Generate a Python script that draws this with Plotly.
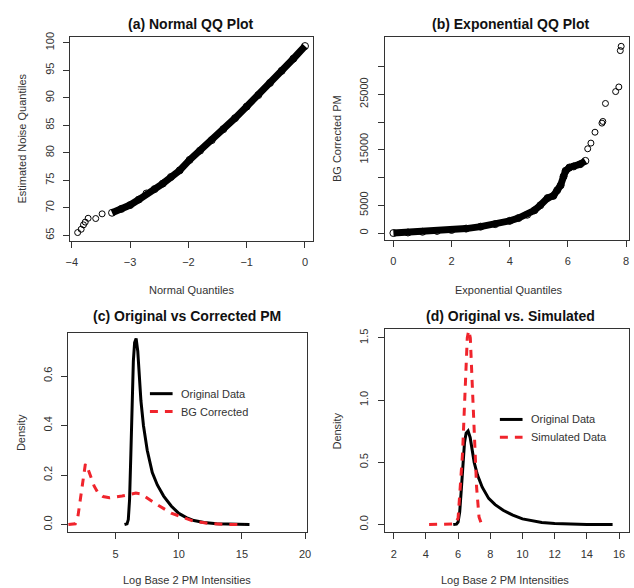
import plotly.graph_objects as go

W, H = 634, 588
FONT = "Liberation Sans, Arial, Helvetica, sans-serif"
RED = "#f0242c"

# ---------------- (a) Normal QQ plot ----------------
normal_q_tail = [-3.90, -3.84, -3.80, -3.77, -3.72, -3.59, -3.48]
noise_q_tail = [65.5, 66.1, 66.9, 67.4, 68.1, 68.05, 68.9]
normal_q_body = [-3.31, -3.15, -3.0, -2.85, -2.72, -2.58, -2.44, -2.3, -2.15, -1.98,
                 -1.8, -1.6, -1.4, -1.2, -1.0, -0.8, -0.6, -0.4, -0.2, 0.0]
noise_q_body = [69.1, 69.8, 70.5, 71.5, 72.6, 73.4, 74.4, 75.6, 76.8, 78.7,
                80.4, 82.3, 84.3, 86.3, 88.4, 90.5, 92.7, 94.9, 97.1, 99.4]

# ---------------- (b) Exponential QQ plot ----------------
exp_q_body = [0.0, 0.5, 1.0, 1.5, 2.0, 2.5, 3.0, 3.5, 4.0, 4.3, 4.6, 4.85, 5.05,
              5.3, 5.5, 5.63, 5.75, 5.85, 5.92, 6.05, 6.2, 6.42, 6.6]
bg_pm_body = [0, 100, 230, 380, 550, 800, 1150, 1600, 2200, 2700, 3300, 4100, 5000,
              6300, 6700, 7700, 8600, 10200, 11200, 11800, 12000, 12400, 13000]
exp_q_tail = [6.68, 6.79, 6.93, 7.17, 7.20, 7.29, 7.64, 7.75, 7.80, 7.83]
bg_pm_tail = [15180, 16200, 18160, 19800, 20100, 23340, 25480, 26310, 32860, 33630]

# ---------------- (c)/(d) densities ----------------
log2_orig = [5.7, 5.9, 6.0, 6.1, 6.2, 6.3, 6.4, 6.5, 6.62, 6.75, 6.87, 7.0, 7.2, 7.5,
             7.9, 8.3, 8.8, 9.4, 10.0, 10.6, 11.2, 12.0, 13.0, 14.0, 15.6]
dens_orig = [0.0, 0.003, 0.02, 0.1, 0.28, 0.5, 0.66, 0.735, 0.752, 0.7, 0.6, 0.5, 0.4, 0.3,
             0.21, 0.16, 0.115, 0.075, 0.045, 0.028, 0.016, 0.008, 0.003, 0.001, 0.0]
log2_bg = [1.25, 1.8, 2.0, 2.2, 2.4, 2.6, 2.8, 3.0, 3.3, 3.6, 4.0, 4.5, 5.0, 5.5, 6.0,
           6.6, 7.0, 7.6, 8.4, 9.4, 10.7, 11.2, 12.5, 13.5, 15.2]
dens_bg = [0.0, 0.003, 0.03, 0.1, 0.18, 0.245, 0.225, 0.2, 0.155, 0.128, 0.113, 0.108, 0.11,
           0.115, 0.12, 0.127, 0.124, 0.103, 0.077, 0.046, 0.02, 0.013, 0.004, 0.001, 0.0]
log2_sim = [4.2, 5.3, 5.8, 6.0, 6.15, 6.28, 6.38, 6.47, 6.57, 6.66, 6.76, 6.85, 6.94,
            7.03, 7.15, 7.3, 7.45]
dens_sim = [0.0, 0.0, 0.005, 0.05, 0.3, 0.58, 0.9, 1.22, 1.5, 1.56, 1.5, 1.22, 0.9,
            0.58, 0.3, 0.06, 0.005]


def px(x):
    return x / W


def py(y):
    return 1 - y / H


fig = go.Figure()

# (a)
fig.add_trace(go.Scatter(x=normal_q_body, y=noise_q_body, mode="lines+markers",
                         line=dict(color="black", width=7),
                         marker=dict(symbol="circle-open", size=7, color="black", line=dict(width=1)),
                         xaxis="x", yaxis="y"))
fig.add_trace(go.Scatter(x=normal_q_tail, y=noise_q_tail, mode="markers",
                         marker=dict(symbol="circle-open", size=6, color="black", line=dict(width=1)),
                         xaxis="x", yaxis="y"))
# (b)
fig.add_trace(go.Scatter(x=exp_q_body, y=bg_pm_body, mode="lines+markers",
                         line=dict(color="black", width=7),
                         marker=dict(symbol="circle-open", size=7, color="black", line=dict(width=1)),
                         xaxis="x2", yaxis="y2"))
fig.add_trace(go.Scatter(x=exp_q_tail, y=bg_pm_tail, mode="markers",
                         marker=dict(symbol="circle-open", size=6, color="black", line=dict(width=1)),
                         xaxis="x2", yaxis="y2"))
# (c)
fig.add_trace(go.Scatter(x=log2_orig, y=dens_orig, mode="lines",
                         line=dict(color="black", width=3), xaxis="x3", yaxis="y3"))
fig.add_trace(go.Scatter(x=log2_bg, y=dens_bg, mode="lines",
                         line=dict(color=RED, width=3, dash="8px,7px"), xaxis="x3", yaxis="y3"))
# (d)
fig.add_trace(go.Scatter(x=log2_orig, y=dens_orig, mode="lines",
                         line=dict(color="black", width=3), xaxis="x4", yaxis="y4"))
fig.add_trace(go.Scatter(x=log2_sim, y=dens_sim, mode="lines",
                         line=dict(color=RED, width=3, dash="8px,7px"), xaxis="x4", yaxis="y4"))

axis_common = dict(showline=True, mirror=True, linecolor="#333", linewidth=1,
                   ticks="outside", ticklen=6, tickwidth=1, tickcolor="#333",
                   showgrid=False, zeroline=False,
                   tickfont=dict(family=FONT, size=11, color="#333"))
xax = dict(axis_common, ticklabelstandoff=5)
yax = dict(axis_common, tickangle=-90, ticklabelstandoff=5)

fig.update_layout(
    width=W, height=H, margin=dict(l=0, r=0, t=0, b=0),
    paper_bgcolor="white", plot_bgcolor="white", showlegend=False,
    xaxis=dict(xax, domain=[px(66), px(312)], range=[-4.03, 0.13], anchor="y",
               tickvals=[-4, -3, -2, -1, 0], ticktext=["\u22124", "\u22123", "\u22122", "\u22121", "0"]),
    yaxis=dict(yax, domain=[py(238), py(32)], range=[63.97, 101.1], anchor="x",
               tickvals=[65, 70, 75, 80, 85, 90, 95, 100]),
    xaxis2=dict(xax, domain=[px(385), px(633)], range=[-0.305, 8.10], anchor="y2",
                tickvals=[0, 2, 4, 6, 8]),
    yaxis2=dict(yax, domain=[py(237), py(32)], range=[-1250, 35360], anchor="x2",
                tickvals=[0, 5000, 10000, 15000, 20000, 25000, 30000],
                ticktext=["0", "5000", "", "15000", "", "25000", ""]),
    xaxis3=dict(xax, domain=[px(64), px(306)], range=[1.23, 20.13], anchor="y3",
                tickvals=[5, 10, 15, 20]),
    yaxis3=dict(yax, domain=[py(532), py(331)], range=[-0.032, 0.773], anchor="x3",
                tickvals=[0, 0.2, 0.4, 0.6], ticktext=["0.0", "0.2", "0.4", "0.6"]),
    xaxis4=dict(xax, domain=[px(385), px(633)], range=[1.43, 16.62], anchor="y4",
                tickvals=[2, 4, 6, 8, 10, 12, 14, 16]),
    yaxis4=dict(yax, domain=[py(532), py(327)], range=[-0.064, 1.57], anchor="x4",
                tickvals=[0, 0.5, 1.0, 1.5], ticktext=["0.0", "0.5", "1.0", "1.5"]),
)

annotations = []


def add_text(text, x, y, size=11, angle=0, anchor="center", bold=False, color="#333"):
    annotations.append(dict(text=f"<b>{text}</b>" if bold else text, x=px(x), y=py(y),
                            xref="paper", yref="paper", showarrow=False,
                            xanchor=anchor, yanchor="middle", textangle=angle,
                            font=dict(family=FONT, size=size, color=color)))


# titles
add_text("(a) Normal QQ Plot", 189, 19, size=14, bold=True, color="#111")
add_text("(b) Exponential QQ Plot", 513, 19, size=14, bold=True, color="#111")
add_text("(c) Original vs Corrected PM", 185, 314, size=14, bold=True, color="#111")
add_text("(d) Original vs. Simulated", 513, 314, size=14, bold=True, color="#111")
# axis titles
add_text("Normal Quantiles", 189, 287)
add_text("Exponential Quantiles", 511, 287)
add_text("Log Base 2 PM Intensities", 185, 580)
add_text("Log Base 2 PM Intensities", 507, 580)
add_text("Estimated Noise Quantiles", 17, 135, angle=-90)
add_text("BG Corrected PM", 337, 135, angle=-90)
add_text("Density", 17, 431, angle=-90)
add_text("Density", 337, 430, angle=-90)
# legends
add_text("Original Data", 177, 392, anchor="left")
add_text("BG Corrected", 177, 410, anchor="left")
add_text("Original Data", 532, 418, anchor="left")
add_text("Simulated Data", 532, 436, anchor="left")

shapes = [
    dict(type="line", xref="paper", yref="paper", x0=px(147), x1=px(170), y0=py(392), y1=py(392),
         line=dict(color="black", width=3)),
    dict(type="line", xref="paper", yref="paper", x0=px(147), x1=px(170), y0=py(410), y1=py(410),
         line=dict(color=RED, width=3, dash="8px,7px")),
    dict(type="line", xref="paper", yref="paper", x0=px(502), x1=px(525), y0=py(418), y1=py(418),
         line=dict(color="black", width=3)),
    dict(type="line", xref="paper", yref="paper", x0=px(502), x1=px(525), y0=py(436), y1=py(436),
         line=dict(color=RED, width=3, dash="8px,7px")),
]

fig.update_layout(annotations=annotations, shapes=shapes)
fig.write_html("out.html", config={"displayModeBar": False},
               post_script="document.body.style.margin='0';document.body.style.overflow='hidden';")
